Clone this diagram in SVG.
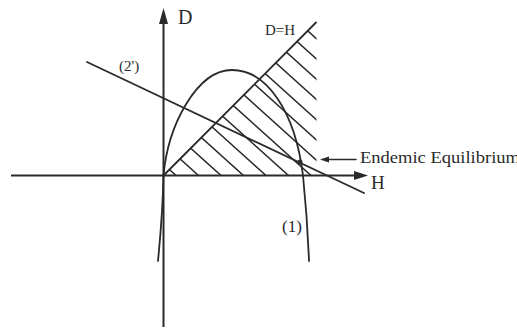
<svg xmlns="http://www.w3.org/2000/svg" width="517" height="334" viewBox="0 0 517 334">
<style>
.ln{fill:none;stroke:#2a2a2a;stroke-width:1.8;stroke-linecap:round}
.ax{fill:none;stroke:#2a2a2a;stroke-width:2}
.ht{fill:none;stroke:#2a2a2a;stroke-width:1.5}
.hd{fill:#2a2a2a;stroke:none}
.tx{fill:#2a2a2a}
</style>
<defs>
<clipPath id="tri"><polygon points="163.5,175.5 316.5,22.5 316.5,175.5"/></clipPath>
</defs>
<rect width="517" height="334" fill="#fff"/>
<g id="hatch" clip-path="url(#tri)">
<path class="ht" d="M-24,-4.5L196,193.5 M-1.5,-4.5L218.5,193.5 M21,-4.5L241,193.5 M43.5,-4.5L263.5,193.5 M66,-4.5L286,193.5 M88.5,-4.5L308.5,193.5 M111,-4.5L331,193.5 M133.5,-4.5L353.5,193.5 M156,-4.5L376,193.5 M178.5,-4.5L398.5,193.5 M201,-4.5L421,193.5 M223.5,-4.5L443.5,193.5 M246,-4.5L466,193.5 M268.5,-4.5L488.5,193.5"/>
</g>
<g id="axes">
<path class="ax" d="M11,175.5H356"/>
<polygon class="hd" points="368,175.5 354,171 354,180"/>
<path class="ax" d="M163.5,327V22"/>
<polygon class="hd" points="163.5,8 159,24 168,24"/>
</g>
<g id="diagonal">
<path class="ln" d="M163.5,175.5L316,22.5"/>
</g>
<g id="curve1">
<path class="ln" d="M158,261C161,230 163,200 163.5,175.5C168,125 197,70 232,70C266,70 295,110 303,175.5C306,205 308,235 309,261"/>
</g>
<g id="line2">
<path class="ln" d="M87,62L364,193"/>
</g>
<g id="equilibrium">
<circle class="hd" cx="300" cy="162" r="2.5"/>
<path class="ln" d="M326,159.5H356" style="stroke-width:1.5"/>
<polygon class="hd" points="320,159.5 329,156.5 329,162.5"/>
</g>
<g id="labels" font-family="'Liberation Serif', serif">
<text class="tx" x="178" y="24" font-size="20">D</text>
<text class="tx" x="371" y="189" font-size="19">H</text>
<text class="tx" x="265" y="35" font-size="15">D=H</text>
<text class="tx" x="119" y="71" font-size="15">(2')</text>
<text class="tx" x="282" y="232" font-size="17">(1)</text>
<text class="tx" x="360" y="163" font-size="17" textLength="160" lengthAdjust="spacingAndGlyphs">Endemic Equilibrium</text>
</g>
</svg>
